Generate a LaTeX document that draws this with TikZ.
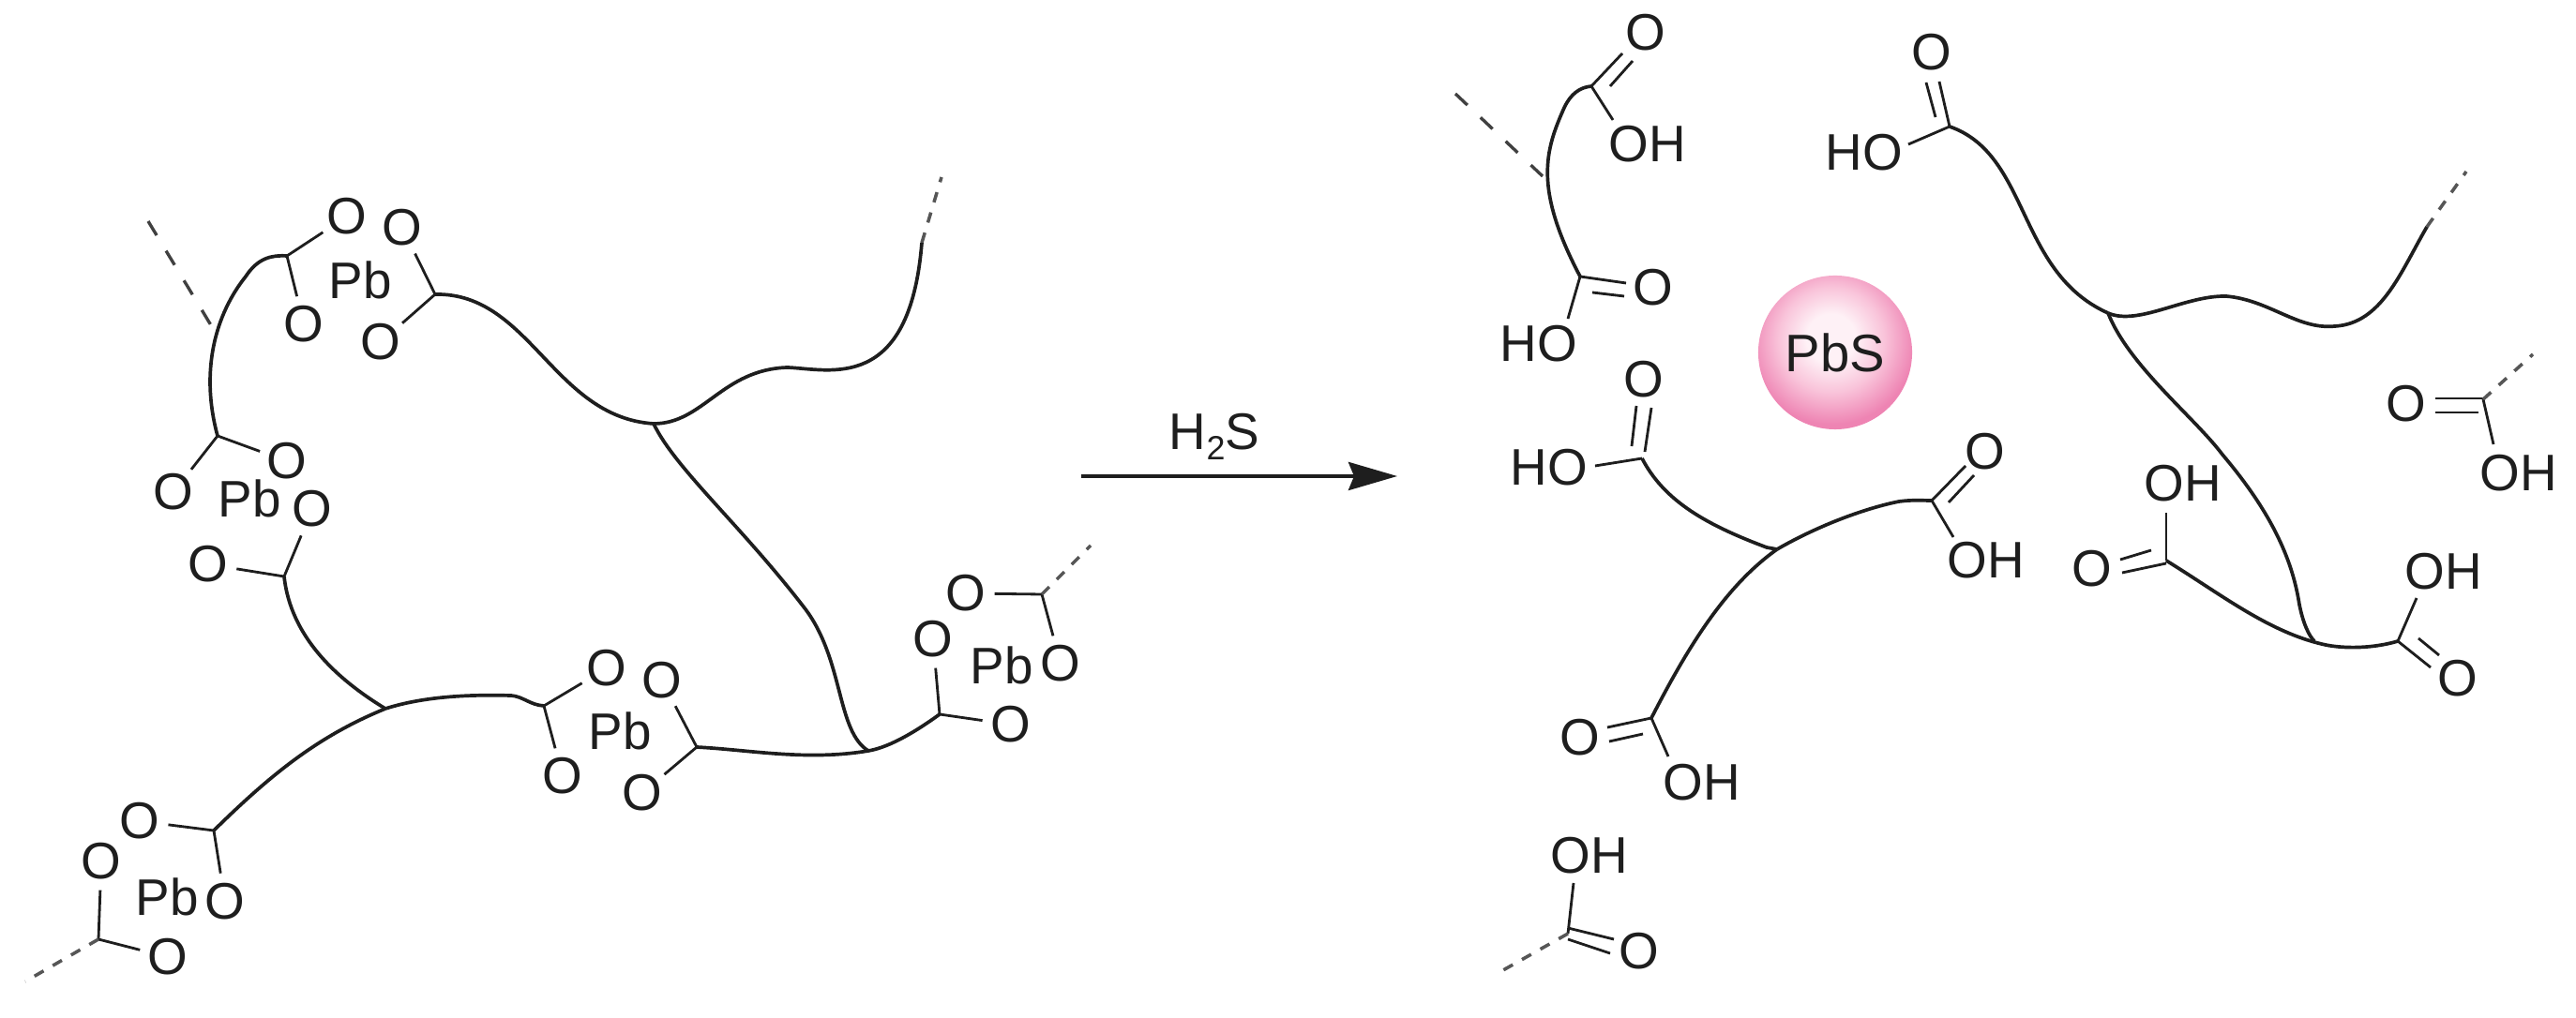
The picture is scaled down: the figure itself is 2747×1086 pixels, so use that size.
\documentclass[tikz,border=0pt]{standalone}
\usepackage{fontspec}
\setmainfont{Liberation Sans}
\usetikzlibrary{arrows.meta}
\definecolor{ink}{HTML}{1E1E1E}
\definecolor{pbspink}{HTML}{EE84B3}
\definecolor{pbsmid}{HTML}{F9C4DA}
\definecolor{pbslight}{HTML}{FEF1F6}
\pgfdeclareradialshading{pbsball}{\pgfpoint{-1.5bp}{5bp}}{%
  color(0bp)=(pbslight);color(8bp)=(pbslight);color(17bp)=(pbsmid);color(27bp)=(pbspink);color(100bp)=(pbspink)}
\tikzset{
  lab/.style={font=\fontsize{15.6}{18}\selectfont,text=ink,inner sep=0pt},
  oxy/.style={lab,circle,minimum size=0.6cm},
  bondl/.style={draw=ink,line width=0.8pt},
  chainl/.style={draw=ink,line width=1.05pt,line join=round},
  dashb/.style={draw=ink!75,line width=1pt,dash pattern=on 3.2pt off 3.2pt},
  longdash/.style={draw=ink!85,line width=0.95pt,dash pattern=on 5pt off 5.5pt},
}
\begin{document}
\begin{tikzpicture}[x=0.01cm,y=-0.01cm]
\useasboundingbox (0,0) rectangle (2747,1086);
% ---------- left: carbon atoms
\coordinate (c1) at (306,273); \coordinate (c2) at (464,314);
\coordinate (c3) at (232,465); \coordinate (c4) at (303,615);
\coordinate (c5) at (580,753); \coordinate (c6) at (228,886);
\coordinate (c7) at (105,1002); \coordinate (c8) at (743,797);
\coordinate (c9) at (1002,762); \coordinate (c10) at (1111,634);
\coordinate (j1) at (697,452); \coordinate (j2) at (411,756);
\coordinate (j3) at (926,801);
\coordinate (d1) at (158,236); \coordinate (d1e) at (225,347);
\coordinate (d2) at (1004,189); \coordinate (d2e) at (983,259);
\coordinate (d3) at (27,1047); \coordinate (d4) at (1163,582);
% ---------- left: labels
\node[oxy] (o1) at (370,231) {O}; \node[oxy] (o2) at (324,346) {O};
\node[oxy] (o3) at (429,243) {O}; \node[oxy] (o4) at (406,365) {O};
\node[oxy] (o5) at (306,492) {O}; \node[oxy] (o6) at (185,525) {O};
\node[oxy] (o7) at (333,543) {O}; \node[oxy] (o8) at (222,602) {O};
\node[oxy] (o9) at (647,713) {O}; \node[oxy] (o10) at (600,828) {O};
\node[oxy] (o11) at (149,876) {O}; \node[oxy] (o12) at (240,962) {O};
\node[oxy] (o13) at (108,919) {O}; \node[oxy] (o14) at (179,1021) {O};
\node[oxy] (o15) at (706,726) {O}; \node[oxy] (o16) at (685,846) {O};
\node[oxy] (o17) at (995,682) {O}; \node[oxy] (o18) at (1078,773) {O};
\node[oxy] (o19) at (1131,708) {O}; \node[oxy] (o20) at (1030,633) {O};
\node[lab] (pb1) at (384,299) {Pb}; \node[lab] (pb2) at (266,532) {Pb};
\node[lab] (pb3) at (661,780) {Pb}; \node[lab] (pb4) at (178,957) {Pb};
\node[lab] (pb6) at (1068,710) {Pb};
% ---------- left: bonds
\draw[bondl] (c1)--(o1); \draw[bondl] (c1)--(o2);
\draw[bondl] (c2)--(o3); \draw[bondl] (c2)--(o4);
\draw[bondl] (c3)--(o5); \draw[bondl] (c3)--(o6);
\draw[bondl] (c4)--(o7); \draw[bondl] (c4)--(o8);
\draw[bondl] (c5)--(o9); \draw[bondl] (c5)--(o10);
\draw[bondl] (c6)--(o11); \draw[bondl] (c6)--(o12);
\draw[bondl] (c7)--(o13); \draw[bondl] (c7)--(o14);
\draw[bondl] (c8)--(o15); \draw[bondl] (c8)--(o16);
\draw[bondl] (c9)--(o17); \draw[bondl] (c9)--(o18);
\draw[bondl] (c10)--(o19); \draw[bondl] (c10)--(o20);
\draw[longdash] (d1)--(d1e); \draw[dashb] (d2e)--(d2);
\draw[dashb] (c7)--(d3); \draw[dashb] (c10)--(d4);
% ---------- left: chains
\draw[chainl] (c1) .. controls (290,272) and (275,275) .. (262,295) .. controls (230,335) and (213,395) .. (c3);
\draw[chainl] (c2) .. controls (565,312) and (590,445) .. (j1);
\draw[chainl] (j1) .. controls (750,452) and (770,394) .. (840,392) .. controls (885,394) and (970,420) .. (d2e);
\draw[chainl] (j1) .. controls (720,500) and (790,560) .. (859,650) .. controls (900,705) and (892,780) .. (j3);
\draw[chainl] (c8) .. controls (800,800) and (860,812) .. (j3) .. controls (950,797) and (980,778) .. (c9);
\draw[chainl] (c4) .. controls (310,680) and (360,725) .. (j2);
\draw[chainl] (j2) .. controls (455,742) and (505,741) .. (545,742) .. controls (558,743) and (565,752) .. (c5);
\draw[chainl] (j2) .. controls (340,785) and (290,825) .. (c6);
% ---------- arrow
\coordinate (a1) at (1153,508); \coordinate (a2) at (1490,508);
\draw[draw=ink,line width=1.1pt,-{Stealth[length=0.52cm,width=0.3cm,inset=0.06cm]}] (a1)--(a2);
\node[lab,anchor=base] (h2s) at (1295,480) {H\raisebox{-0.2em}{\fontsize{10.2}{12}\selectfont 2}S};
% ---------- particle
\node[circle,minimum size=1.64cm,inner sep=0pt,shading=pbsball,lab,font=\fontsize{16}{18}\selectfont] (pbs) at (1957,376) {PbS};
% ---------- right: carbons and free ends
\coordinate (k11) at (1697,92); \coordinate (k12) at (1685,295);
\coordinate (k13) at (2079,135); \coordinate (k14) at (2310,598);
\coordinate (k15) at (2557,684); \coordinate (k16) at (2648,426);
\coordinate (k17) at (2060,534); \coordinate (k18) at (1751,489);
\coordinate (k19) at (1761,766); \coordinate (k20) at (1672,996);
\coordinate (j4) at (2248,334); \coordinate (j5) at (2468,684);
\coordinate (j6) at (1895,586);
\coordinate (e1) at (1552,100); \coordinate (e1e) at (1645,188);
\coordinate (e2) at (2630,183); \coordinate (e2e) at (2588,242);
\coordinate (e3) at (2701,378); \coordinate (e4) at (1594,1040);
\coordinate (b11) at (1720,128); \coordinate (b12) at (1672,340);
\coordinate (b13) at (2035,154); \coordinate (b14) at (2310,547);
\coordinate (b15) at (2577,638); \coordinate (b16) at (2659,474);
\coordinate (b17) at (2083,573); \coordinate (b18) at (1701,497);
\coordinate (b19) at (1779,807); \coordinate (b20) at (1678,942);
% ---------- right: labels
\node[oxy] (q11) at (1755,35) {O}; \node[lab] (h11) at (1757,154) {OH};
\node[oxy] (q12) at (1763,307) {O}; \node[lab] (h12) at (1641,367) {HO};
\node[oxy] (q13) at (2060,56) {O}; \node[lab] (h13) at (1988,163) {HO};
\node[oxy] (q14) at (2231,607) {O}; \node[lab] (h14) at (2328,516) {OH};
\node[oxy] (q15) at (2621,724) {O}; \node[lab] (h15) at (2606,610) {OH};
\node[oxy] (q16) at (2566,431) {O}; \node[lab] (h16) at (2686,505) {OH};
\node[oxy] (q17) at (2117,482) {O}; \node[lab] (h17) at (2118,598) {OH};
\node[oxy] (q18) at (1753,405) {O}; \node[lab] (h18) at (1652,499) {HO};
\node[oxy] (q19) at (1685,787) {O}; \node[lab] (h19) at (1815,835) {OH};
\node[oxy] (q20) at (1748,1015) {O}; \node[lab] (h20) at (1695,913) {OH};
% ---------- right: single bonds
\draw[bondl] (k11)--(b11); \draw[bondl] (k12)--(b12);
\draw[bondl] (k13)--(b13); \draw[bondl] (k14)--(b14);
\draw[bondl] (k15)--(b15); \draw[bondl] (k16)--(b16);
\draw[bondl] (k17)--(b17); \draw[bondl] (k18)--(b18);
\draw[bondl] (k19)--(b19); \draw[bondl] (k20)--(b20);
% ---------- right: double bonds
\draw[bondl] (k11)--(1730,57); \draw[bondl] (1717,92)--(1741,65);
\draw[bondl] (k12)--(1734,302); \draw[bondl] (1698,312)--(1732,316);
\draw[bondl] (k13)--(2068,87); \draw[bondl] (2054,88)--(2064,125);
\draw[bondl] (2310,601)--(2263,611); \draw[bondl] (2261,597)--(2294,587);
\draw[bondl] (k15)--(2592,712); \draw[bondl] (2579,681)--(2601,699);
\draw[bondl] (2648,425)--(2597,425); \draw[bondl] (2597,440)--(2643,440);
\draw[bondl] (k17)--(2096,497); \draw[bondl] (2078,536)--(2105,507);
\draw[bondl] (1740,476)--(1745,433); \draw[bondl] (1761,435)--(1754,482);
\draw[bondl] (k19)--(1714,776); \draw[bondl] (1716,791)--(1752,783);
\draw[bondl] (1672,990)--(1721,1002); \draw[bondl] (1672,1002)--(1717,1017);
% ---------- right: dashed ends
\draw[longdash] (e1)--(e1e); \draw[dashb] (e2e)--(e2);
\draw[dashb] (k16)--(e3); \draw[dashb] (k20)--(e4);
% ---------- right: chains
\draw[chainl] (k11) .. controls (1685,93) and (1675,100) .. (1668,115) .. controls (1648,160) and (1635,200) .. (k12);
\draw[chainl] (k13) .. controls (2165,165) and (2150,290) .. (j4);
\draw[chainl] (j4) .. controls (2280,348) and (2330,315) .. (2374,316) .. controls (2420,320) and (2450,352) .. (2490,348) .. controls (2540,345) and (2560,290) .. (e2e);
\draw[chainl] (j4) .. controls (2270,390) and (2340,445) .. (2370,485) .. controls (2425,550) and (2445,600) .. (2452,645) .. controls (2456,665) and (2462,678) .. (j5);
\draw[chainl] (k14) .. controls (2370,635) and (2420,675) .. (2480,688) .. controls (2500,692) and (2530,692) .. (k15);
\draw[chainl] (k18) .. controls (1775,535) and (1820,560) .. (1884,584) -- (j6);
\draw[chainl] (j6) .. controls (1940,560) and (1990,542) .. (2025,535) .. controls (2040,533) and (2050,534) .. (k17);
\draw[chainl] (j6) .. controls (1840,625) and (1800,690) .. (k19);
\end{tikzpicture}
\end{document}
